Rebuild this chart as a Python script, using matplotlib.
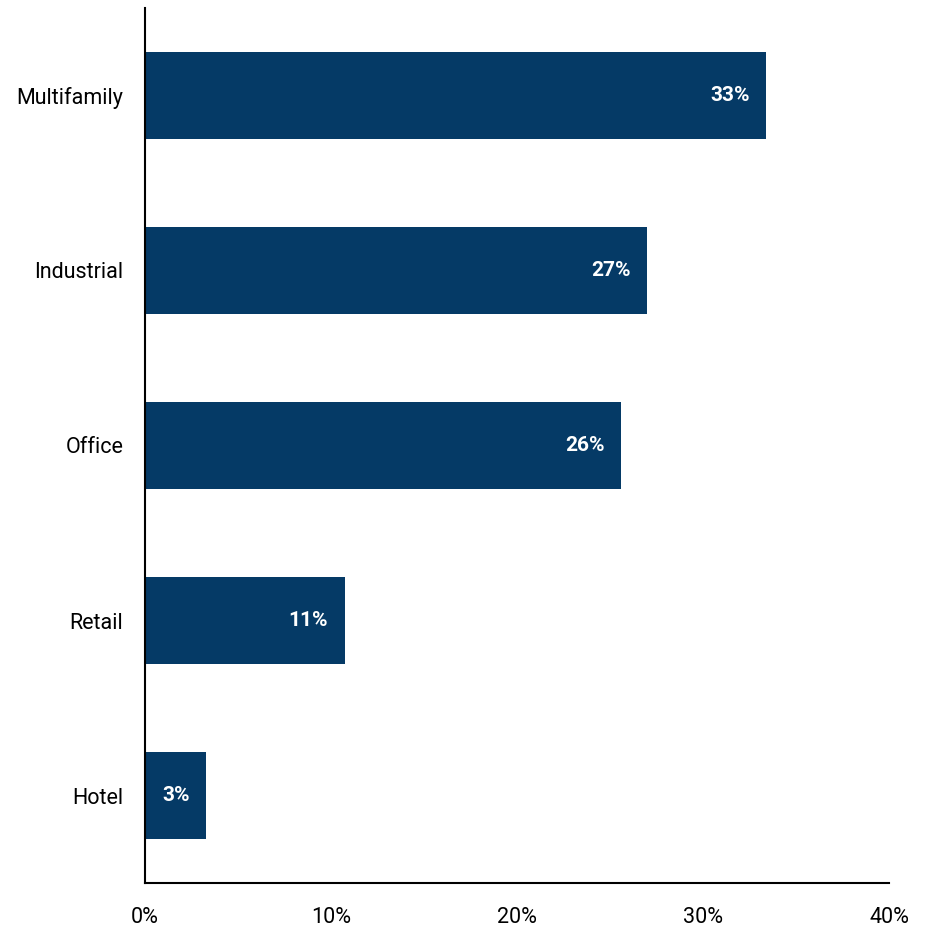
import matplotlib.pyplot as plt
from matplotlib.ticker import FuncFormatter

plt.rcParams['font.family'] = ['Roboto', 'DejaVu Sans']

categories = ['Hotel', 'Retail', 'Office', 'Industrial', 'Multifamily']
shares = [3.3, 10.75, 25.6, 27.0, 33.4]
labels = ['3%', '11%', '26%', '27%', '33%']

fig = plt.figure(figsize=(9.32, 9.26), dpi=100)
ax = fig.add_axes([0.1556, 0.0464, 0.7985, 0.945])

bars = ax.barh(categories, shares, height=0.5, color='#053a66')
for b, lab in zip(bars, labels):
    ax.annotate(lab, (b.get_width(), b.get_y() + b.get_height() / 2),
                xytext=(-17, 0), textcoords='offset pixels',
                ha='right', va='center', color='white', fontsize=15, fontweight='bold')

ax.set_xlim(0, 40)
ax.set_ylim(-0.5, 4.5)
ax.set_xticks([0, 10, 20, 30, 40])
ax.xaxis.set_major_formatter(FuncFormatter(lambda v, p: f'{v:.0f}%'))
ax.tick_params(length=0, labelsize=15.5, pad=17)
ax.tick_params(axis='y', pad=15.5)
ax.spines['top'].set_visible(False)
ax.spines['right'].set_visible(False)
ax.spines['left'].set_linewidth(1.5)
ax.spines['bottom'].set_linewidth(1.5)

fig.savefig('out.png', dpi=100)
